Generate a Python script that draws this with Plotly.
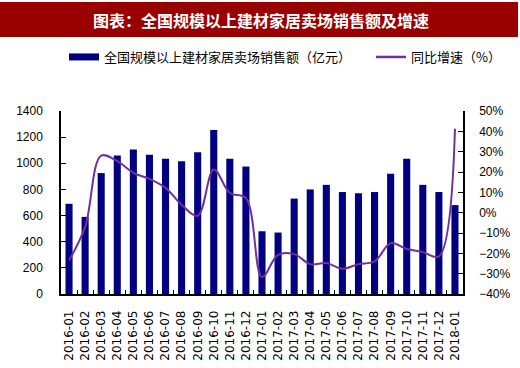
import plotly.graph_objects as go

categories = ["2016-01","2016-02","2016-03","2016-04","2016-05","2016-06","2016-07","2016-08",
              "2016-09","2016-10","2016-11","2016-12","2017-01","2017-02","2017-03","2017-04",
              "2017-05","2017-06","2017-07","2017-08","2017-09","2017-10","2017-11","2017-12","2018-01"]
sales = [690, 590, 925, 1060, 1105, 1065, 1035, 1015, 1085, 1255, 1035, 975, 480,
         470, 730, 800, 835, 780, 770, 780, 920, 1035, 835, 780, 680]
growth = [-23.5, -7, 28, 25.3, 19.6, 16.6, 12.2, 3.9, -1.5, 21.2, 9.7, 7.2, -31.7,
          -20.7, -20.4, -25.3, -24.8, -27.6, -25.3, -24, -15, -17.9, -19.4, -21.5, 41.3]

title_text = "图表：全国规模以上建材家居卖场销售额及增速"
bar_name = "全国规模以上建材家居卖场销售额（亿元）"
line_name = "同比增速（%）"

NAVY = "#000080"
PURPLE = "#7030A0"
CJK = "Noto Sans CJK SC"
LAT = "Liberation Sans"

fig = go.Figure()
fig.add_trace(go.Bar(x=categories, y=sales, marker=dict(color=NAVY, line=dict(width=0)),
                     showlegend=False, name=bar_name))
fig.add_trace(go.Scatter(x=categories, y=growth, yaxis="y2", mode="lines",
                         line=dict(color=PURPLE, width=2, shape="spline", smoothing=1),
                         showlegend=False, name=line_name))
# legend entries
fig.add_trace(go.Scatter(x=[None], y=[None], mode="lines", line=dict(color=NAVY, width=7),
                         name=bar_name, legend="legend"))
fig.add_trace(go.Scatter(x=[None], y=[None], mode="lines", line=dict(color=PURPLE, width=2.5),
                         name=line_name, yaxis="y2", legend="legend2"))

W, H = 520, 368
L, R, T, B = 61, 57, 111, 74
pw, ph = W - L - R, H - T - B

def px(xp):
    return (xp - L) / pw

def py(yp):
    return (H - B - yp) / ph

leg_common = dict(orientation="h", xanchor="left", yanchor="middle",
                  font=dict(family=CJK, size=13, color="#000"),
                  bgcolor="rgba(0,0,0,0)", itemwidth=30)

fig.update_layout(
    width=W, height=H, autosize=False,
    margin=dict(l=L, r=R, t=T, b=B, pad=0),
    paper_bgcolor="white", plot_bgcolor="white",
    bargap=0.56,
    font=dict(family=LAT, size=12, color="#000000"),
    xaxis=dict(type="category", range=[-0.5, 24.5], tickangle=-90, automargin=False,
               tickfont=dict(family="DejaVu Sans", size=12, color="#000"),
               showline=True, linecolor="#000", linewidth=1.5, mirror=False,
               ticks="inside", ticklen=4, tickcolor="#000", tickson="boundaries",
               showgrid=False, zeroline=False, ticklabelstandoff=10),
    yaxis=dict(range=[0, 1400], dtick=200, tickfont=dict(family=LAT, size=12, color="#000"),
               automargin=False,
               showline=True, linecolor="#000", linewidth=1.5, ticks="inside", ticklen=5,
               tickcolor="#000", showgrid=False, zeroline=False, ticklabelstandoff=14),
    yaxis2=dict(range=[-40, 50], dtick=10, ticksuffix="%", overlaying="y", side="right",
                automargin=False,
                tickfont=dict(family=LAT, size=12, color="#000"),
                showline=True, linecolor="#000", linewidth=1.5, ticks="inside", ticklen=5,
                tickcolor="#000", showgrid=False, zeroline=False, ticklabelstandoff=12),
    legend=dict(x=px(64), y=py(57), **leg_common),
    legend2=dict(x=px(371), y=py(57), **leg_common),
    shapes=[dict(type="rect", xref="paper", yref="paper", x0=px(0), x1=px(518),
                 y0=py(37), y1=py(2), fillcolor="#990000", line=dict(width=0), layer="below")],
    annotations=[dict(text=title_text, xref="paper", yref="paper", x=px(261), y=py(20),
                      xanchor="center", yanchor="middle", showarrow=False,
                      font=dict(family=CJK, size=16, color="white", weight=600))],
)

fig.write_html("out.html", config={"displayModeBar": False},
               post_script="document.body.style.margin='0';document.body.style.overflow='hidden';")
